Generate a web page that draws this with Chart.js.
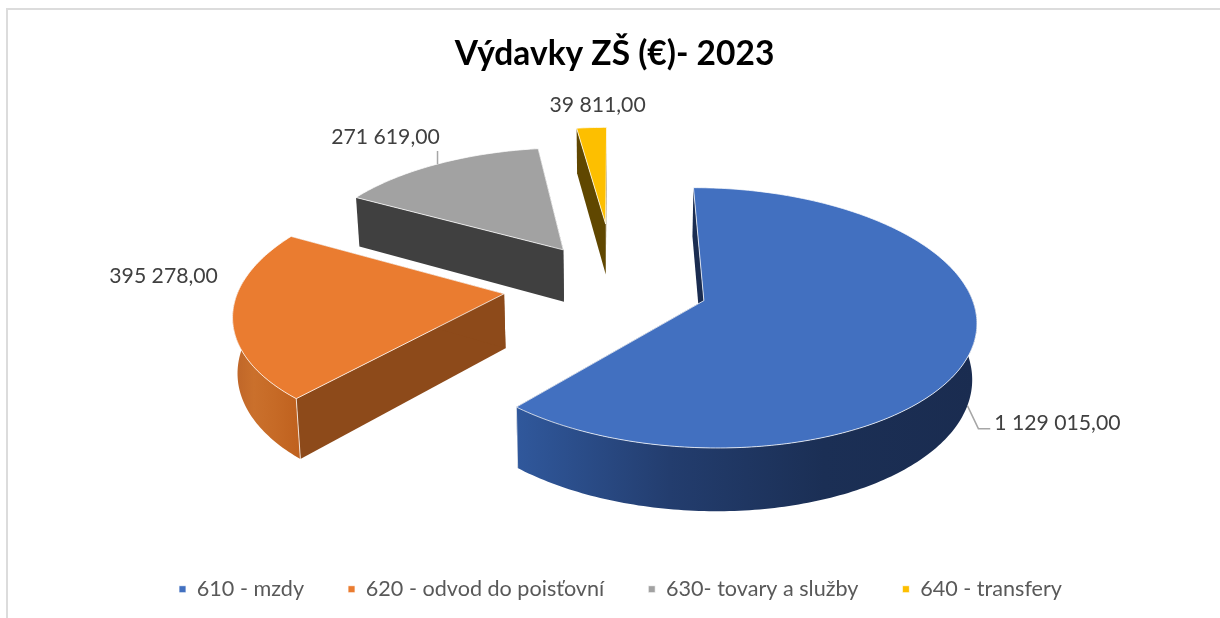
<!DOCTYPE html>
<html>
<head>
<meta charset="utf-8">
<title>Výdavky ZŠ</title>
<script src="https://cdn.jsdelivr.net/npm/chart.js@4/dist/chart.umd.js"></script>
<style>
  html, body { margin: 0; padding: 0; background: #fff; overflow: hidden; }
  #frame { position: absolute; left: 6px; top: 8px; right: 0; bottom: 0; border-left: 2px solid #dcdcdc; border-top: 2px solid #dcdcdc; }
  #chart { position: absolute; left: 0; top: 0; }
</style>
</head>
<body>
<div id="frame"></div>
<canvas id="chart" width="1220" height="618"></canvas>
<script>
const chartTitle = "Výdavky ZŠ (€)- 2023";
const categories = ["610 - mzdy", "620 - odvod do poisťovní", "630- tovary a služby", "640 - transfery"];
const amounts = [1129015, 395278, 271619, 39811];

const topColors = ["#4270c0", "#ea7c30", "#a2a2a2", "#fdbf00"];
const cutColors = ["#1a2c50", "#8d4a1a", "#404040", "#604700"];
const rimColors = [
  ["#30589c", "#233d6e", "#1b2f55", "#1a2c50"],
  ["#bd6428", "#ca702c", "#c66a26", "#c0621f"],
  ["#6b6b6b", "#6b6b6b", "#6b6b6b", "#6b6b6b"],
  ["#a67c00", "#a67c00", "#a67c00", "#a67c00"]
];
const explode = [94, 111, 94, 139];

// where each value label sits, relative to the middle of its slice rim
const labelPlaces = [
  { dx: 90, dy: 18, bottom: true, leader: true },
  { dx: -69, dy: -40 },
  { dx: -52, dy: -27, leader: true },
  { dx: 6, dy: -22 }
];

// fake 3D: tilted plane with a little perspective
const view = { tilt: 0.468, persp: 0.13, depth: 54, shrink: 0.987 };

function formatAmount(v) {
  return v.toFixed(2).replace(".", ",").replace(/\B(?=(\d{3})+(?!\d))/g, " ");
}

function project(arc, dx, dy) {
  const s = 1 / (1 - view.persp * dy / arc.outerRadius);
  return { x: arc.x + dx * s, y: arc.y + dy * view.tilt * s, s };
}

function lower(arc, p) {
  return { x: arc.x + (p.x - arc.x) * view.shrink, y: p.y + view.depth * p.s };
}

function slicePoints(arc) {
  const mid = (arc.startAngle + arc.endAngle) / 2;
  const ox = Math.cos(mid) * arc.options.offset;
  const oy = Math.sin(mid) * arc.options.offset;
  const rim = [], front = [];
  const steps = Math.ceil((arc.endAngle - arc.startAngle) * 60);
  for (let i = 0; i <= steps; i++) {
    const a = arc.startAngle + (arc.endAngle - arc.startAngle) * i / steps;
    const p = project(arc, ox + Math.cos(a) * arc.outerRadius, oy + Math.sin(a) * arc.outerRadius);
    rim.push(p);
    // only the part of the rim that turns towards the viewer gets a wall
    if (Math.sin(a) > -0.12) front.push(p);
  }
  const apex = project(arc, ox, oy);
  const midRim = project(arc, ox + Math.cos(mid) * arc.outerRadius, oy + Math.sin(mid) * arc.outerRadius);
  return { rim, front, apex, midRim };
}

function fillPoly(ctx, pts, fill) {
  ctx.beginPath();
  pts.forEach((p, i) => (i ? ctx.lineTo(p.x, p.y) : ctx.moveTo(p.x, p.y)));
  ctx.closePath();
  ctx.fillStyle = fill;
  ctx.fill();
}

const pie3d = {
  id: "pie3d",
  afterLayout(chart) {
    // the legend row sits a bit right of the title in the original
    chart.legend.left += 6;
    chart.legend.right += 6;
  },
  beforeDatasetDraw(chart, args) {
    const ctx = chart.ctx;
    const arcs = chart.getDatasetMeta(args.index).data;
    // far slices first
    for (let i = arcs.length - 1; i >= 0; i--) {
      const arc = arcs[i];
      const { rim, front, apex } = slicePoints(arc);
      const first = rim[0], last = rim[rim.length - 1];
      const apexLow = lower(arc, apex);
      fillPoly(ctx, [apex, apexLow, lower(arc, first), first], cutColors[i]);
      fillPoly(ctx, [apex, apexLow, lower(arc, last), last], cutColors[i]);

      if (front.length > 1) {
        const xs = front.map(p => p.x);
        const grad = ctx.createLinearGradient(Math.min(...xs), 0, Math.max(...xs), 0);
        rimColors[i].forEach((c, j) => grad.addColorStop(j / (rimColors[i].length - 1), c));
        fillPoly(ctx, front.concat(front.map(p => lower(arc, p)).reverse()), grad);

        // seam where the wall meets a cut face
        ctx.strokeStyle = arc.options.borderColor;
        ctx.lineWidth = 1;
        [first, last].filter(p => front.includes(p)).forEach(p => {
          const q = lower(arc, p);
          ctx.beginPath();
          ctx.moveTo(p.x, p.y);
          ctx.lineTo(q.x, q.y);
          ctx.stroke();
        });
      }

      fillPoly(ctx, [apex].concat(rim), arc.options.backgroundColor);
      ctx.lineWidth = arc.options.borderWidth;
      ctx.strokeStyle = arc.options.borderColor;
      ctx.stroke();
    }
    return false;
  },
  afterDatasetsDraw(chart) {
    const ctx = chart.ctx;
    const arcs = chart.getDatasetMeta(0).data;
    ctx.font = "21.2px Lato";
    ctx.textAlign = "center";
    ctx.textBaseline = "middle";
    arcs.forEach((arc, i) => {
      const place = labelPlaces[i];
      const midRim = slicePoints(arc).midRim;
      const from = place.bottom ? lower(arc, midRim) : midRim;
      const text = formatAmount(amounts[i]);
      const lx = from.x + place.dx, ly = from.y + place.dy;
      const half = ctx.measureText(text).width / 2;
      if (place.leader) {
        ctx.strokeStyle = "#a6a6a6";
        ctx.lineWidth = 1.5;
        ctx.beginPath();
        ctx.moveTo(from.x, from.y);
        if (place.bottom) {
          ctx.lineTo(from.x + 11, from.y + 23);
          ctx.lineTo(lx - half - 4, from.y + 23);
        } else {
          ctx.lineTo(from.x, ly + 14);
        }
        ctx.stroke();
      }
      ctx.fillStyle = "#404040";
      ctx.fillText(text, lx, ly);
    });
  }
};

new Chart(document.getElementById("chart"), {
  type: "pie",
  data: {
    labels: categories,
    datasets: [{
      data: amounts,
      backgroundColor: topColors,
      borderColor: "rgba(255,255,255,0.75)",
      borderWidth: 1,
      offset: explode
    }]
  },
  options: {
    responsive: false,
    animation: false,
    radius: 264.4,
    layout: { padding: { left: 9, bottom: 8 } },
    plugins: {
      tooltip: { enabled: false },
      title: {
        display: true,
        text: chartTitle,
        color: "#000",
        font: { family: "Lato", size: 33.5, weight: "bold" },
        padding: { top: 34, bottom: -39 }
      },
      legend: {
        position: "bottom",
        labels: {
          usePointStyle: true,
          pointStyle: "rect",
          boxWidth: 7,
          boxHeight: 7,
          padding: 44,
          color: "#595959",
          font: { family: "Lato", size: 21.6 }
        }
      }
    }
  },
  plugins: [pie3d]
});
</script>
</body>
</html>
